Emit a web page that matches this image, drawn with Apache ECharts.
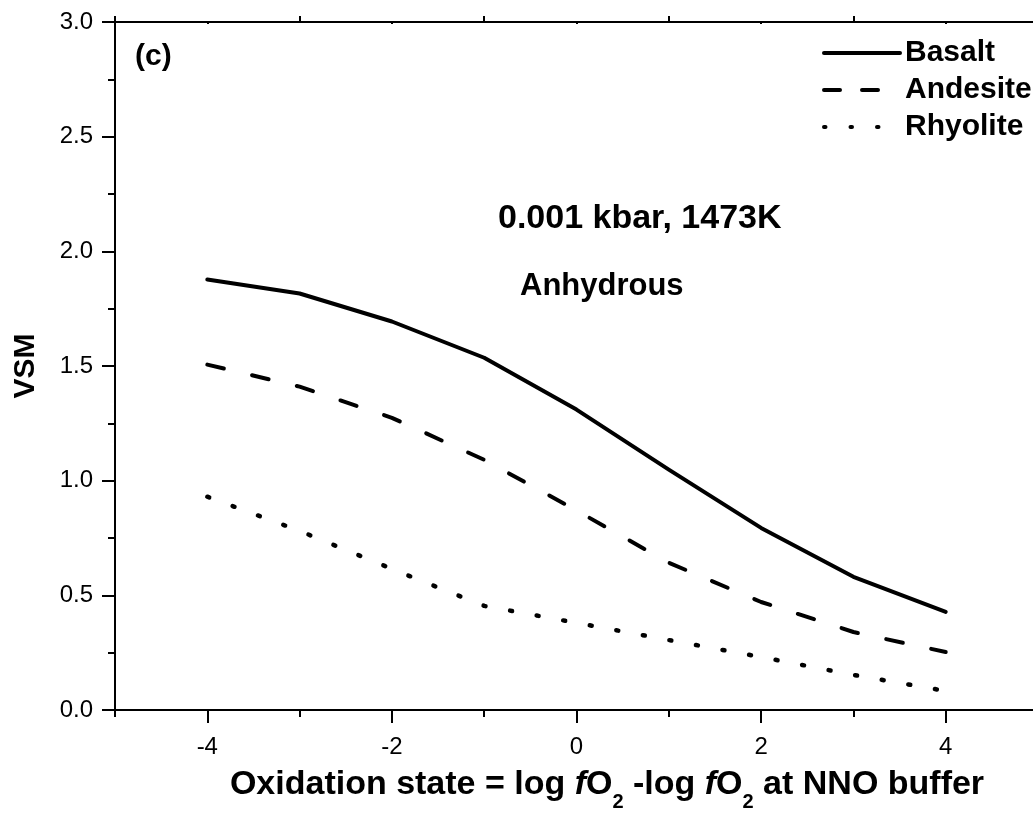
<!DOCTYPE html>
<html><head><meta charset="utf-8">
<script src="https://cdn.jsdelivr.net/npm/echarts@6/dist/echarts.min.js"></script>
<style>html,body{margin:0;padding:0;background:#fff}#c{width:1033px;height:813px}</style>
</head><body><div id="c"></div>
<script>
const xValues = [-4, -3, -2, -1, 0, 1, 2, 3, 4];
const basalt = [1.877, 1.816, 1.694, 1.536, 1.31, 1.048, 0.794, 0.581, 0.428];
const andesite = [1.506, 1.41, 1.274, 1.091, 0.87, 0.642, 0.471, 0.34, 0.253];
const rhyolite = [0.93, 0.781, 0.615, 0.454, 0.38, 0.305, 0.231, 0.153, 0.083];
const seriesNames = ['Basalt', 'Andesite', 'Rhyolite'];
const xMajorTicks = [-4, -2, 0, 2, 4];
const xOddTicks = [-5, -3, -1, 1, 3, 5];

const FONT = '"Liberation Sans", Arial, sans-serif';
const chart = echarts.init(document.getElementById('c'), null, {renderer: 'canvas'});
const axisLine = {show: true, onZero: false, lineStyle: {color: '#000', width: 2}};
const pairs = arr => xValues.map((x, i) => [x, arr[i]]);

const option = {
  animation: false,
  backgroundColor: '#fff',
  grid: {left: 115, top: 22, width: 923, height: 688, containLabel: false, outerBoundsMode: 'none'},
  legend: {
    data: [
      {name: seriesNames[0], lineStyle: {type: 'solid'}},
      {name: seriesNames[1], lineStyle: {type: [16, 22], cap: 'round'}},
      {name: seriesNames[2], lineStyle: {type: [1.5, 25], cap: 'round'}}
    ],
    orient: 'vertical',
    left: 817, top: 33,
    itemWidth: 76, itemHeight: 14, itemGap: 7,
    lineStyle: {width: 4, color: '#000'},
    itemStyle: {color: 'rgba(0,0,0,0)', borderWidth: 0, opacity: 0},
    textStyle: {fontFamily: FONT, fontWeight: 'bold', fontSize: 30, color: '#000'}
  },
  xAxis: [
    {
      type: 'value', position: 'bottom', min: -5, max: 5,
      axisLine: axisLine,
      axisTick: {show: true, customValues: xMajorTicks, length: 13, lineStyle: {color: '#000', width: 2}},
      axisLabel: {show: true, customValues: xMajorTicks, fontFamily: FONT, fontSize: 24, color: '#000', margin: 25},
      splitLine: {show: false},
      name: '{b|Oxidation state = log }{i|f}{b|O}{s|2}{b| -log }{i|f}{b|O}{s|2}{b| at NNO buffer}',
      nameLocation: 'middle', nameGap: 48,
      nameTextStyle: {
        padding: [0, 0, 0, 61],
        rich: {
          b: {fontFamily: FONT, fontWeight: 'bold', fontSize: 34, color: '#000'},
          i: {fontFamily: FONT, fontWeight: 'bold', fontStyle: 'italic', fontSize: 34, color: '#000'},
          s: {fontFamily: FONT, fontWeight: 'bold', fontSize: 20, color: '#000', padding: [34, 0, 0, 0]}
        }
      }
    },
    {
      type: 'value', position: 'bottom', min: -5, max: 5,
      axisLine: {show: false, onZero: false},
      axisTick: {show: true, customValues: xOddTicks, length: 7, lineStyle: {color: '#000', width: 2}},
      axisLabel: {show: false}, splitLine: {show: false}
    },
    {
      type: 'value', position: 'top', min: -5, max: 5,
      axisLine: axisLine,
      axisTick: {show: true, customValues: xOddTicks, length: 6, lineStyle: {color: '#000', width: 2}},
      axisLabel: {show: false}, splitLine: {show: false}
    },
    {
      type: 'value', position: 'top', min: -5, max: 5,
      axisLine: {show: false, onZero: false},
      axisTick: {show: true, inside: true, customValues: xMajorTicks, length: 2, lineStyle: {color: '#000', width: 2}},
      axisLabel: {show: false}, splitLine: {show: false}
    }
  ],
  yAxis: [
    {
      type: 'value', position: 'left', min: 0, max: 3, interval: 0.5,
      axisLine: axisLine,
      axisTick: {show: true, length: 13, lineStyle: {color: '#000', width: 2}},
      minorTick: {show: true, splitNumber: 2, length: 7, lineStyle: {color: '#000', width: 2}},
      axisLabel: {fontFamily: FONT, fontSize: 24, color: '#000', margin: 22, formatter: v => v.toFixed(1)},
      splitLine: {show: false}, minorSplitLine: {show: false},
      name: 'VSM', nameLocation: 'middle', nameRotate: 90, nameGap: 74,
      nameTextStyle: {fontFamily: FONT, fontWeight: 'bold', fontSize: 30, color: '#000'}
    },
    {
      type: 'value', position: 'right', min: 0, max: 3, interval: 0.5,
      axisLine: axisLine, axisTick: {show: false}, axisLabel: {show: false}, splitLine: {show: false}
    }
  ],
  graphic: [
    {type: 'text', left: 135, top: 42, style: {text: '(c)', font: 'bold 30px ' + FONT, fill: '#000'}},
    {type: 'text', left: 498, top: 202, style: {text: '0.001 kbar, 1473K', font: 'bold 34px ' + FONT, fill: '#000'}},
    {type: 'text', left: 520, top: 271, style: {text: 'Anhydrous', font: 'bold 31px ' + FONT, fill: '#000'}}
  ],
  series: [
    {name: seriesNames[0], type: 'line', data: pairs(basalt), symbol: 'none', showSymbol: false,
     lineStyle: {color: '#000', width: 4, type: 'solid', cap: 'round', join: 'round'}, itemStyle: {color: '#000'}},
    {name: seriesNames[1], type: 'line', data: pairs(andesite), symbol: 'none', showSymbol: false,
     lineStyle: {color: '#000', width: 4, type: [17, 29], cap: 'round', join: 'round'}, itemStyle: {color: '#000'}},
    {name: seriesNames[2], type: 'line', data: pairs(rhyolite), symbol: 'none', showSymbol: false,
     lineStyle: {color: '#000', width: 4.5, type: [2, 25], cap: 'round', join: 'round'}, itemStyle: {color: '#000'}}
  ]
};
chart.setOption(option);
</script>
</body></html>
